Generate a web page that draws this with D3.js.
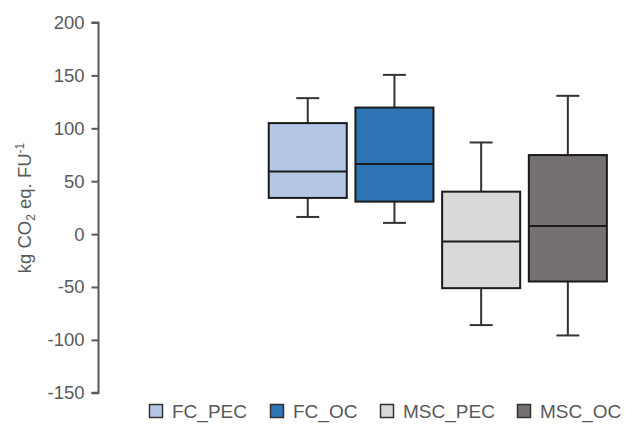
<!DOCTYPE html>
<html><head><meta charset="utf-8">
<script src="https://cdn.jsdelivr.net/npm/d3@7"></script>
<style>body{margin:0;background:#fff;} text{font-family:"Liberation Sans",Arial,sans-serif;}</style>
</head><body><svg id="c" width="640" height="426"></svg>
<script>
const categories = ["FC_PEC","FC_OC","MSC_PEC","MSC_OC"];
const whiskerMin = [16.2, 10.6, -86.0, -95.8];
const q1 =         [34.2, 30.7, -51.1, -44.8];
const median =     [59.2, 66.2, -7.1, 7.7];
const q3 =         [104.9, 119.6, 40.1, 74.7];
const whiskerMax = [128.5, 150.5, 86.6, 130.7];
const colors = ["#b4c7e7","#2e75b6","#d9d9d9","#767171"];
const yTicks = [200,150,100,50,0,-50,-100,-150];

const svg = d3.select("#c");
const y = d3.scaleLinear().domain([-150,200]).range([392.8,22.5]);
const x = d3.scalePoint().domain(categories).range([264.4,611.2]).padding(0.5);
const bw = x.step()*0.9, cap = 23;
const axisColor = "#595959";

const ax = svg.append("g").attr("transform","translate(98.5,0)")
  .call(d3.axisLeft(y).tickValues(yTicks).tickSize(7).tickPadding(7).tickFormat(d => String(d)));
ax.select(".domain").attr("stroke",axisColor).attr("stroke-width",2).attr("d","M-7,"+y(200)+"H0V"+y(-150)+"H-7");
ax.selectAll(".tick line").attr("stroke",axisColor).attr("stroke-width",2);
ax.selectAll(".tick text").attr("fill",axisColor).attr("font-size",18.5).attr("font-family","Liberation Sans, Arial, sans-serif");

const lab = svg.append("text").attr("transform","translate(31,208) rotate(-90)")
  .attr("text-anchor","middle").attr("fill",axisColor).attr("font-size",18.5);
lab.append("tspan").text("kg CO");
lab.append("tspan").attr("font-size",12).attr("dy",4).text("2");
lab.append("tspan").attr("dy",-4).text(" eq. FU");
lab.append("tspan").attr("font-size",12).attr("dy",-7).text("-1");

const g = svg.append("g");
categories.forEach((c,i)=>{
  const cx = x(c);
  const gg = g.append("g");
  gg.append("line").attr("x1",cx).attr("x2",cx).attr("y1",y(whiskerMax[i])).attr("y2",y(q3[i])).attr("stroke","#333").attr("stroke-width",2);
  gg.append("line").attr("x1",cx).attr("x2",cx).attr("y1",y(q1[i])).attr("y2",y(whiskerMin[i])).attr("stroke","#333").attr("stroke-width",2);
  gg.append("line").attr("x1",cx-cap/2).attr("x2",cx+cap/2).attr("y1",y(whiskerMax[i])).attr("y2",y(whiskerMax[i])).attr("stroke","#333").attr("stroke-width",2);
  gg.append("line").attr("x1",cx-cap/2).attr("x2",cx+cap/2).attr("y1",y(whiskerMin[i])).attr("y2",y(whiskerMin[i])).attr("stroke","#333").attr("stroke-width",2);
  gg.append("rect").attr("x",cx-bw/2).attr("width",bw).attr("y",y(q3[i])).attr("height",y(q1[i])-y(q3[i]))
    .attr("fill",colors[i]).attr("stroke","#1a1a1a").attr("stroke-width",2);
  gg.append("line").attr("x1",cx-bw/2).attr("x2",cx+bw/2).attr("y1",y(median[i])).attr("y2",y(median[i])).attr("stroke","#1a1a1a").attr("stroke-width",2);
});

const legX = [149, 270, 380, 517];
const leg = svg.append("g");
categories.forEach((c,i)=>{
  leg.append("rect").attr("x",legX[i]+0.5).attr("y",404.5).attr("width",13).attr("height",13)
    .attr("fill",colors[i]).attr("stroke","#333").attr("stroke-width",1.5);
  leg.append("text").attr("x",legX[i]+23).attr("y",418).attr("font-size",19).attr("fill",axisColor).text(c);
});
</script></body></html>
